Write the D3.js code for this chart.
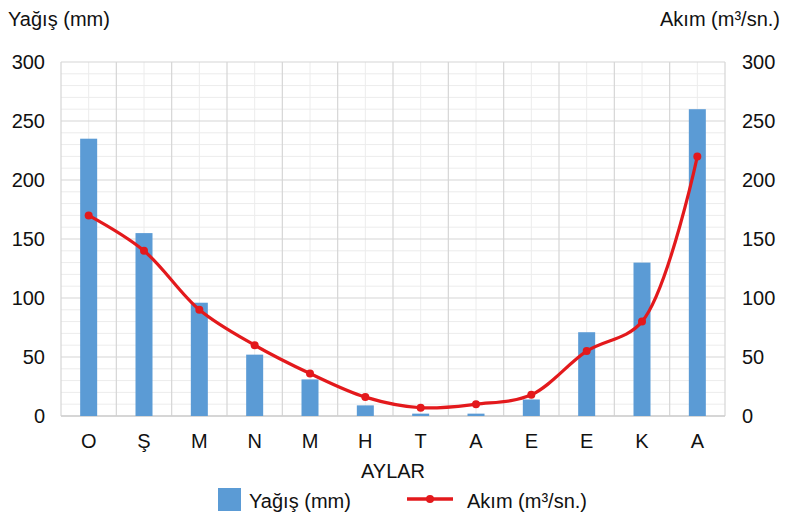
<!DOCTYPE html>
<html>
<head>
<meta charset="utf-8">
<script src="https://cdn.jsdelivr.net/npm/d3@7"></script>
<style>
  body { margin: 0; background: #fff; }
  text { font-family: "Liberation Sans", Arial, sans-serif; fill: #111; }
</style>
</head>
<body>
<svg width="800" height="524"></svg>
<script>
let months = ['O', 'Ş', 'M', 'N', 'M', 'H', 'T', 'A', 'E', 'E', 'K', 'A']
let yagis = [235, 155, 96, 52, 31, 9, 2, 2, 14, 71, 130, 260]
let akim = [170, 140, 90, 60, 36, 16, 7, 10, 18, 55, 80, 220]
let ticks = [0, 50, 100, 150, 200, 250, 300]

let svg = d3.select('svg')
let plotLeft = 61, plotRight = 725, plotTop = 62, plotBottom = 416
let fs = 20

let x = d3.scaleBand().domain(d3.range(months.length)).range([plotLeft, plotRight])
let y = d3.scaleLinear().domain([0, 300]).range([plotBottom, plotTop])
let y2 = d3.scaleLinear().domain([0, 300]).range([plotBottom, plotTop])

let grid = svg.append('g')

// minor lines every 10, then the 50s
grid.selectAll('line.minor')
    .data(d3.range(10, 300, 10).filter(d => d % 50 != 0))
    .enter()
    .append('line')
    .attr('x1', plotLeft).attr('x2', plotRight)
    .attr('y1', d => y(d)).attr('y2', d => y(d))
    .attr('stroke', '#ececec')
    .attr('stroke-width', 1)

grid.selectAll('line.vmid')
    .data(d3.range(months.length))
    .enter()
    .append('line')
    .attr('x1', d => x(d) + x.bandwidth() / 2).attr('x2', d => x(d) + x.bandwidth() / 2)
    .attr('y1', plotTop).attr('y2', plotBottom)
    .attr('stroke', '#ececec')

grid.selectAll('line.major')
    .data(ticks)
    .enter()
    .append('line')
    .attr('x1', plotLeft).attr('x2', plotRight)
    .attr('y1', d => y(d)).attr('y2', d => y(d))
    .attr('stroke', '#d6d6d6')
    .attr('stroke-width', 1.2)

grid.selectAll('line.vmajor')
    .data(d3.range(months.length + 1))
    .enter()
    .append('line')
    .attr('x1', d => plotLeft + d * x.step()).attr('x2', d => plotLeft + d * x.step())
    .attr('y1', plotTop).attr('y2', plotBottom)
    .attr('stroke', '#d6d6d6')
    .attr('stroke-width', 1.2)

svg.append('line')
    .attr('x1', plotLeft).attr('x2', plotRight)
    .attr('y1', plotBottom).attr('y2', plotBottom)
    .attr('stroke', '#cfcfcf')
    .attr('stroke-width', 1.5)

let barW = 17
svg.selectAll('rect.bar')
    .data(yagis)
    .enter()
    .append('rect')
    .attr('class', 'bar')
    .attr('x', (d, i) => x(i) + x.bandwidth() / 2 - barW / 2)
    .attr('width', barW)
    .attr('y', d => y(d))
    .attr('height', d => plotBottom - y(d))
    .attr('fill', '#5b9bd5')

let line = d3.line()
    .x((d, i) => x(i) + x.bandwidth() / 2)
    .y(d => y2(d))
    .curve(d3.curveCatmullRom.alpha(0.5))

svg.append('path')
    .datum(akim)
    .attr('d', line)
    .attr('fill', 'none')
    .attr('stroke', '#e3191c')
    .attr('stroke-width', 3.2)

svg.selectAll('circle.pt')
    .data(akim)
    .enter()
    .append('circle')
    .attr('cx', (d, i) => x(i) + x.bandwidth() / 2)
    .attr('cy', d => y2(d))
    .attr('r', 4)
    .attr('fill', '#e3191c')

// axis labels
svg.selectAll('text.yl')
    .data(ticks)
    .enter()
    .append('text')
    .attr('x', 45)
    .attr('y', d => y(d) + 7)
    .attr('text-anchor', 'end')
    .attr('font-size', fs)
    .text(d => d)

svg.selectAll('text.yr')
    .data(ticks)
    .enter()
    .append('text')
    .attr('x', 742)
    .attr('y', d => y2(d) + 7)
    .attr('font-size', fs)
    .text(d => d)

svg.selectAll('text.xl')
    .data(months)
    .enter()
    .append('text')
    .attr('x', (d, i) => x(i) + x.bandwidth() / 2)
    .attr('y', 448)
    .attr('text-anchor', 'middle')
    .attr('font-size', fs)
    .text(d => d)

svg.append('text').attr('x', 8).attr('y', 26).attr('font-size', fs).text('Yağış (mm)')
svg.append('text').attr('x', 780).attr('y', 26).attr('text-anchor', 'end').attr('font-size', fs).text('Akım (m³/sn.)')
svg.append('text').attr('x', 393).attr('y', 478).attr('text-anchor', 'middle').attr('font-size', fs).text('AYLAR')

let legend = svg.append('g')
legend.append('rect').attr('x', 218).attr('y', 488).attr('width', 23).attr('height', 23).attr('fill', '#5b9bd5')
legend.append('text').attr('x', 249).attr('y', 508).attr('font-size', fs).text('Yağış (mm)')
legend.append('line').attr('x1', 407).attr('x2', 453).attr('y1', 499).attr('y2', 499)
    .attr('stroke', '#e3191c').attr('stroke-width', 3.5)
legend.append('circle').attr('cx', 430).attr('cy', 499).attr('r', 4).attr('fill', '#e3191c')
legend.append('text').attr('x', 467).attr('y', 508).attr('font-size', fs).text('Akım (m³/sn.)')
</script>
</body>
</html>
